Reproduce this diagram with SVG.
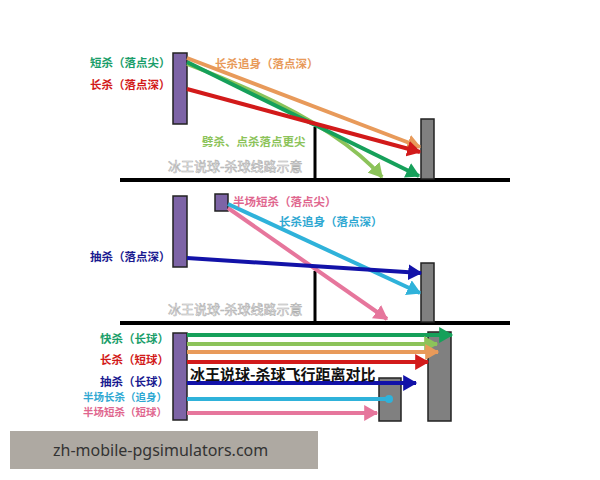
<svg xmlns="http://www.w3.org/2000/svg" width="600" height="480" viewBox="0 0 600 480">
<defs>
<style>
.pl{fill:#7d64a6;stroke:#222;stroke-width:1.5}
.gr{fill:#808080;stroke:#222;stroke-width:1.5}
.gd{stroke:#000;stroke-width:4}
.nt{stroke:#000;stroke-width:3}
.ln{fill:none;stroke-width:4}
.lb{font-family:"Noto Sans CJK SC","Noto Sans",sans-serif;font-weight:bold;font-size:11.5px}
.sm{font-size:10.5px}
.wm{font-family:"Noto Sans CJK SC",sans-serif;font-size:13px;fill:#fff;stroke:#b0b0b0;stroke-width:0.6}
</style>
<marker id="aOr" markerWidth="4" markerHeight="4" refX="3.2" refY="2" orient="auto" markerUnits="strokeWidth"><path d="M0,0 L3.5,2 L0,4 z" fill="#e89a5a"/></marker>
<marker id="aRd" markerWidth="4" markerHeight="4" refX="3.2" refY="2" orient="auto" markerUnits="strokeWidth"><path d="M0,0 L3.5,2 L0,4 z" fill="#d21a1a"/></marker>
<marker id="aDg" markerWidth="4" markerHeight="4" refX="3.2" refY="2" orient="auto" markerUnits="strokeWidth"><path d="M0,0 L3.5,2 L0,4 z" fill="#16a05a"/></marker>
<marker id="aLg" markerWidth="4" markerHeight="4" refX="3.2" refY="2" orient="auto" markerUnits="strokeWidth"><path d="M0,0 L3.5,2 L0,4 z" fill="#8cc35a"/></marker>
<marker id="aBl" markerWidth="4" markerHeight="4" refX="3.2" refY="2" orient="auto" markerUnits="strokeWidth"><path d="M0,0 L3.5,2 L0,4 z" fill="#1212a8"/></marker>
<marker id="aCy" markerWidth="4" markerHeight="4" refX="3.2" refY="2" orient="auto" markerUnits="strokeWidth"><path d="M0,0 L3.5,2 L0,4 z" fill="#2fb2da"/></marker>
<marker id="aPk" markerWidth="4" markerHeight="4" refX="3.2" refY="2" orient="auto" markerUnits="strokeWidth"><path d="M0,0 L3.5,2 L0,4 z" fill="#e6769c"/></marker>
</defs>
<rect width="600" height="480" fill="#fff"/>

<!-- court lines -->
<g id="court">
<line class="gd" x1="120" y1="180" x2="510" y2="180"/>
<line class="nt" x1="315" y1="127" x2="315" y2="180"/>
<line class="gd" x1="120" y1="323" x2="510" y2="323"/>
<line class="nt" x1="315" y1="271" x2="315" y2="323"/>
</g>

<!-- nodes -->
<g id="player1"><rect class="pl" x="173" y="53" width="14" height="71"/></g>
<g id="receiver1"><rect class="gr" x="421" y="119" width="13" height="60"/></g>
<g id="player2"><rect class="pl" x="173" y="196" width="14" height="71"/></g>
<g id="player2b"><rect class="pl" x="215" y="194" width="13" height="17"/></g>
<g id="receiver2"><rect class="gr" x="421" y="263" width="13" height="59"/></g>
<g id="player3"><rect class="pl" x="173" y="333" width="14" height="87"/></g>
<g id="receiver3a"><rect class="gr" x="428" y="332" width="23" height="89"/></g>
<g id="receiver3b"><rect class="gr" x="379" y="378" width="22" height="43"/></g>

<!-- watermarks -->
<text class="wm" x="168" y="171">冰王说球-杀球线路示意</text>
<text class="wm" x="168" y="314">冰王说球-杀球线路示意</text>

<!-- connectors -->
<g id="connectors">
<line class="ln" stroke="#e89a5a" x1="187" y1="58" x2="420" y2="147" marker-end="url(#aOr)"/>
<path class="ln" stroke="#8cc35a" d="M187,64 Q330,118 382,177" marker-end="url(#aLg)"/>
<line class="ln" stroke="#16a05a" x1="187" y1="62" x2="419" y2="176" marker-end="url(#aDg)"/>
<line class="ln" stroke="#d21a1a" x1="187" y1="89" x2="420" y2="152" marker-end="url(#aRd)"/>

<line class="ln" stroke="#e6769c" x1="228" y1="208" x2="387" y2="319" marker-end="url(#aPk)"/>
<line class="ln" stroke="#2fb2da" x1="228" y1="204" x2="420" y2="293" marker-end="url(#aCy)"/>
<line class="ln" stroke="#1212a8" x1="187" y1="258" x2="421" y2="273" marker-end="url(#aBl)"/>

<line class="ln" stroke="#16a05a" x1="187" y1="335" x2="452" y2="335" marker-end="url(#aDg)"/>
<line class="ln" stroke="#8cc35a" x1="187" y1="344" x2="437" y2="344" marker-end="url(#aLg)"/>
<line class="ln" stroke="#e89a5a" x1="187" y1="352" x2="438" y2="352" marker-end="url(#aOr)"/>
<line class="ln" stroke="#d21a1a" x1="187" y1="362" x2="428" y2="362" marker-end="url(#aRd)"/>
<line class="ln" stroke="#1212a8" x1="187" y1="383" x2="416" y2="383" marker-end="url(#aBl)"/>
<line class="ln" stroke="#2fb2da" x1="187" y1="399" x2="388" y2="399"/>
<circle cx="389" cy="399" r="4" fill="#2fb2da"/>
<line class="ln" stroke="#e6769c" x1="187" y1="413" x2="377" y2="413" marker-end="url(#aPk)"/>
</g>

<!-- labels -->
<g id="labels">
<text class="lb" fill="#1a9e6a" x="90" y="67">短杀（落点尖）</text>
<text class="lb" fill="#d21a1a" x="90" y="89">长杀（落点深）</text>
<text class="lb" fill="#e89a5a" x="215" y="68">长杀追身（落点深）</text>
<text class="lb" fill="#8cc35a" x="202" y="146">劈杀、点杀落点更尖</text>
<text class="lb" fill="#e0668e" x="233" y="206">半场短杀（落点尖）</text>
<text class="lb" fill="#2fa8d2" x="279" y="226">长杀追身（落点深）</text>
<text class="lb" fill="#1a1a90" x="90" y="261">抽杀（落点深）</text>
<text class="lb" fill="#1a9e6a" x="100" y="343">快杀（长球）</text>
<text class="lb" fill="#d21a1a" x="100" y="364">长杀（短球）</text>
<text class="lb" fill="#1a1a90" x="100" y="386">抽杀（长球）</text>
<text class="lb sm" fill="#2fa8d2" x="83" y="401">半场长杀（追身）</text>
<text class="lb sm" fill="#e0668e" x="83" y="416">半场短杀（短球）</text>
<text font-family="'Noto Sans CJK SC',sans-serif" font-weight="bold" font-size="15" fill="#111" x="190" y="380">冰王说球-杀球飞行距离对比</text>
</g>

<!-- banner -->
<rect x="10" y="431" width="308" height="38" fill="#aea9a2"/>
<text x="53" y="456" font-family="'Noto Sans','DejaVu Sans',sans-serif" font-size="16" fill="#333">zh-mobile-pgsimulators.com</text>
</svg>
